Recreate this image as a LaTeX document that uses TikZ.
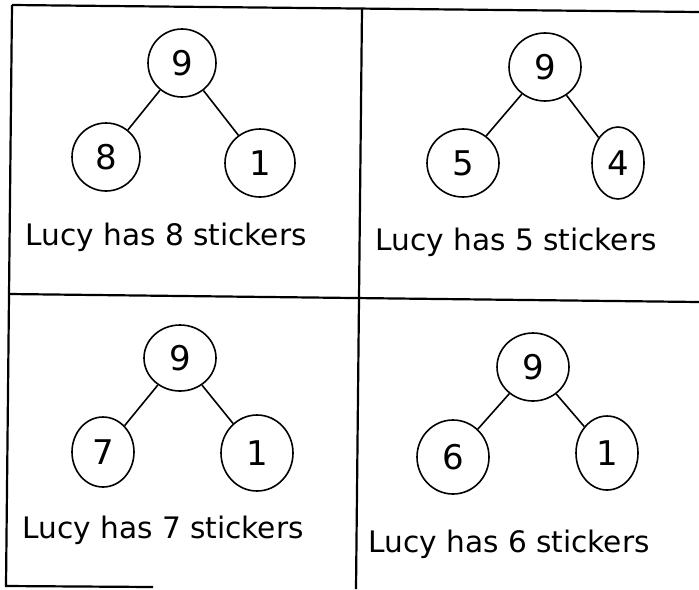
\documentclass[tikz,border=0pt]{standalone}
\usepackage{fontspec}
\setmainfont{DejaVu Sans}
\usetikzlibrary{shapes.geometric}

\begin{document}
\begin{tikzpicture}[x=0.5pt, y=-0.5pt,
    num/.style={draw, ellipse, line width=0.8pt, inner sep=0pt,
                minimum width=34pt, minimum height=34pt,
                font=\fontsize{17}{17}\selectfont},
    sent/.style={anchor=base west, inner sep=0pt,
                 font=\fontsize{14.8}{18}\selectfont},
    branch/.style={line width=0.8pt},
    frame/.style={line width=1.1pt}]
  \useasboundingbox (0,0) rectangle (699,589);
  % Frame lines
  \draw[frame] (12,5) -- (699,12);
  \draw[frame] (12,5) -- (6,586) -- (153,587);
  \draw[frame] (362,8) -- (356,589);
  \draw[frame] (9,294) -- (699,302);
  % Panel 1
  \node[num] (r1) at (182,63) {9};
  \node[num] (l1) at (106,157) {8};
  \node[num, minimum width=35pt] (s1) at (260,163) {1};
  \node[sent] (t1) at (25,245) {Lucy has 8 stickers};
  \draw[branch] (r1) -- (l1);
  \draw[branch] (r1) -- (s1);
  % Panel 2
  \node[num, minimum width=36pt] (r2) at (545,67) {9};
  \node[num, minimum width=36pt] (l2) at (463,163) {5};
  \node[num, minimum width=26pt, minimum height=36pt] (s2) at (618,163) {4};
  \node[sent] (t2) at (375,250) {Lucy has 5 stickers};
  \draw[branch] (r2) -- (l2);
  \draw[branch] (r2) -- (s2);
  % Panel 3
  \node[num, minimum width=36pt, minimum height=33pt] (r3) at (180,358) {9};
  \node[num, minimum width=31pt, minimum height=35pt] (l3) at (103,452) {7};
  \node[num, minimum width=36pt, minimum height=38pt] (s3) at (257,453) {1};
  \node[sent] (t3) at (22,538) {Lucy has 7 stickers};
  \draw[branch] (r3) -- (l3);
  \draw[branch] (r3) -- (s3);
  % Panel 4
  \node[num, minimum width=36pt] (r4) at (533,367) {9};
  \node[num, minimum width=36pt, minimum height=37pt] (l4) at (453,457) {6};
  \node[num, minimum width=31pt, minimum height=37pt] (s4) at (607,453) {1};
  \node[sent] (t4) at (368,552) {Lucy has 6 stickers};
  \draw[branch] (r4) -- (l4);
  \draw[branch] (r4) -- (s4);
\end{tikzpicture}
\end{document}
